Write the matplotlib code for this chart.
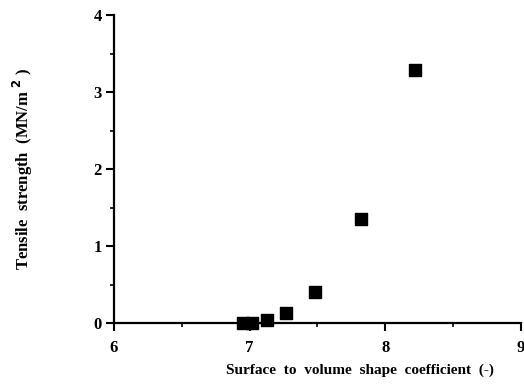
import matplotlib
matplotlib.use('Agg')
import matplotlib.pyplot as plt
from matplotlib.ticker import MultipleLocator

# values
shape_coeff = [6.95, 7.02, 7.13, 7.27, 7.48, 7.82, 8.22]
tensile = [0.0, 0.0, 0.04, 0.13, 0.40, 1.35, 3.29]
x_ticks = [6, 7, 8, 9]
y_ticks = [0, 1, 2, 3, 4]

plt.rcParams['font.family'] = ['Liberation Serif', 'DejaVu Serif']
plt.rcParams['font.weight'] = 'bold'

fig = plt.figure(figsize=(5.24, 3.86), dpi=100)
ax = fig.add_axes([0.2176, 0.1624, 0.9937 - 0.2176, 0.961 - 0.1624])

ax.scatter(shape_coeff, tensile, marker='s', s=64, color='black', zorder=3, clip_on=False)

ax.set_xlim(6, 9)
ax.set_ylim(0, 4)
ax.set_xticks(x_ticks)
ax.set_yticks(y_ticks)
ax.xaxis.set_minor_locator(MultipleLocator(0.5))
ax.yaxis.set_minor_locator(MultipleLocator(0.5))

for s in ['top', 'right']:
    ax.spines[s].set_visible(False)
for s in ['left', 'bottom']:
    ax.spines[s].set_linewidth(1.6)

ax.tick_params(which='major', direction='out', length=6, width=1.5, labelsize=12)
ax.tick_params(which='minor', direction='out', length=3, width=1.2)
ax.tick_params(axis='x', which='major', pad=6)
ax.tick_params(axis='y', which='major', pad=3)
for lab in ax.get_xticklabels() + ax.get_yticklabels():
    lab.set_fontweight('bold')

ax.set_xlabel('Surface  to  volume  shape  coefficient  (-)', fontsize=11, fontweight='bold')
ax.xaxis.set_label_coords(0.604, -0.13)
ax.set_ylabel('Tensile  strength  (MN/m$^{\\mathbf{\\ 2}}$ )', fontsize=12, fontweight='bold', labelpad=42)

fig.savefig('out.png', dpi=100)
